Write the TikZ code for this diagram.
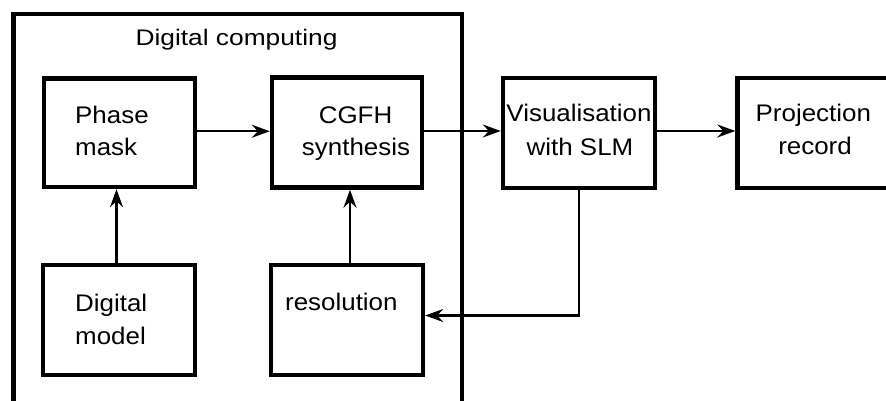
\documentclass[tikz,border=0pt]{standalone}
\usepackage{fontspec}
\setmainfont{Liberation Sans}
\newfontfamily\boxfont[FakeStretch=1.08]{Liberation Sans}
\newfontfamily\headfont[FakeStretch=1.17]{Liberation Sans}
\usetikzlibrary{arrows.meta}

\tikzset{
  box/.style={draw, line width=4.4pt, rectangle, inner sep=0pt},
  conn/.style={line width=2.2pt, -{Stealth[length=18pt,width=13pt,inset=6pt]}},
  txt/.style={inner sep=0pt, font=\boxfont\fontsize{24}{28}\selectfont},
  head/.style={inner sep=0pt, font=\headfont\fontsize{22.5}{26}\selectfont}
}

\begin{document}
\begin{tikzpicture}[x=1pt, y=-1pt]
  \clip (0,0) rectangle (886,401);
  \fill[white] (0,0) rectangle (886,401);

  % enclosing block for the computing stage
  \node[box, minimum width=448.5pt, minimum height=389.5pt] (dc) at (237.75,208.75) {};
  \node[head, anchor=base] (dctitle) at (236.5,45.7) {Digital computing};

  % processing blocks
  \node[box, minimum width=151pt, minimum height=108.5pt] (pm)  at (119.5,132.75) {};
  \node[box, minimum width=150pt, minimum height=110pt]   (cg)  at (347,132.5) {};
  \node[box, minimum width=152pt, minimum height=110pt]   (dm)  at (119,320) {};
  \node[box, minimum width=152pt, minimum height=110pt]   (res) at (347,320) {};
  \node[box, minimum width=152pt, minimum height=110pt]   (vis) at (579,133) {};
  \node[box, minimum width=155pt, minimum height=110pt]   (pr)  at (815,133) {};

  % block labels
  \node[txt, anchor=base west] (pm1) at (75,123.3) {Phase};
  \node[txt, anchor=base west] (pm2) at (75,155) {mask};
  \node[txt, anchor=base] (cg1) at (355.5,123.3) {CGFH};
  \node[txt, anchor=base] (cg2) at (356,155.5) {synthesis};
  \node[txt, anchor=base west] (dm1) at (75,311.7) {Digital};
  \node[txt, anchor=base west] (dm2) at (75,344.3) {model};
  \node[txt, anchor=base west] (res1) at (285,310) {resolution};
  \node[txt, anchor=base] (vis1) at (579,121.7) {Visualisation};
  \node[txt, anchor=base] (vis2) at (580,155) {with SLM};
  \node[txt, anchor=base] (pr1) at (813.3,121.5) {Projection};
  \node[txt, anchor=base] (pr2) at (815,154) {record};

  % connectors
  \draw[conn] ([yshift=1.5pt]pm.east) -- ([yshift=1.5pt]pm.east -| cg.west);
  \draw[conn] ([yshift=1.5pt]cg.east) -- ([yshift=1.5pt]cg.east -| vis.west);
  \draw[conn] ([yshift=2pt]vis.east) -- ([yshift=2pt]vis.east -| pr.west);
  \draw[conn] ([xshift=-2.5pt]dm.north) -- ([xshift=-2.5pt]dm.north |- pm.south);
  \draw[conn] ([xshift=3pt]res.north) -- ([xshift=3pt]res.north |- cg.south);
  \draw[conn] (vis.south) |- ([yshift=4.5pt]res.east);
\end{tikzpicture}
\end{document}
